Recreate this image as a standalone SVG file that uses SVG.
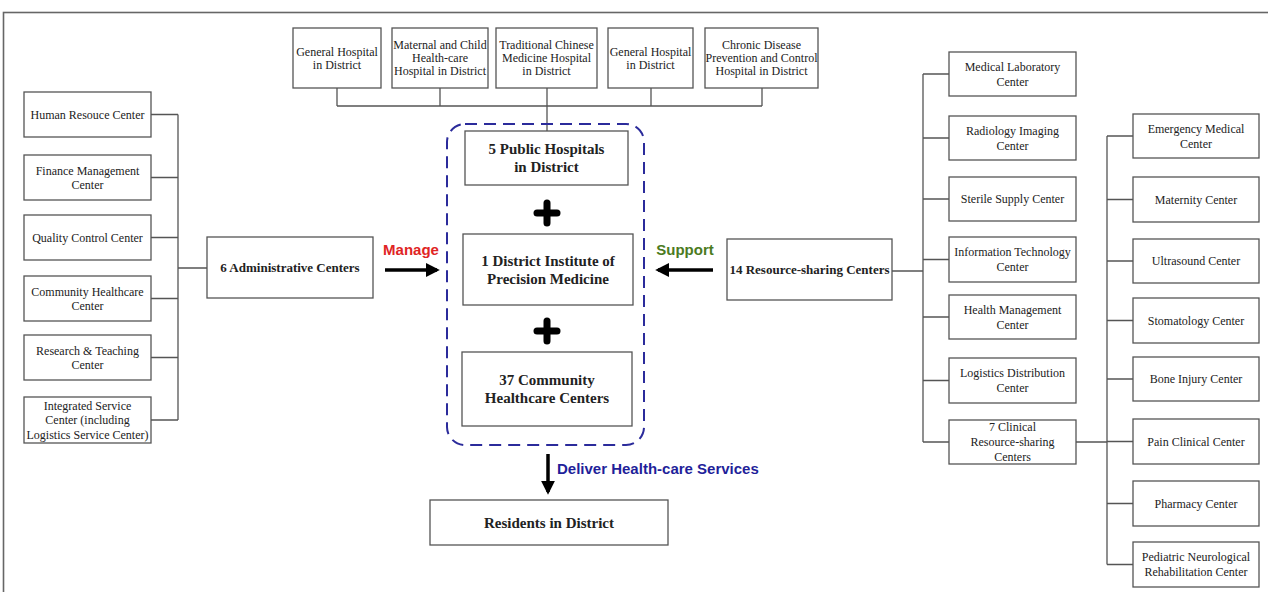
<svg xmlns="http://www.w3.org/2000/svg" width="1268" height="592" viewBox="0 0 1268 592">
<style>
.box{fill:#fff;stroke:#555;stroke-width:1.3}
.ln{fill:none;stroke:#555;stroke-width:1.3}
.t{font-family:"Liberation Serif","Times New Roman",serif;font-size:12px;fill:#222;text-anchor:middle}
.b{font-family:"Liberation Serif","Times New Roman",serif;font-weight:bold;fill:#222;text-anchor:middle}
.b13{font-size:13px}
.b15{font-size:15px}
.lab{font-family:"Liberation Sans",Arial,sans-serif;font-weight:bold;font-size:15px}
.arr{stroke:#000;stroke-width:3.5;fill:none}
.plus{stroke:#000;stroke-width:7;stroke-linecap:round}
</style>
<defs>
<marker id="ah" viewBox="0 0 10 10" refX="8" refY="5" markerWidth="4" markerHeight="4" orient="auto" markerUnits="strokeWidth">
<path d="M0,0 L10,5 L0,10 z" fill="#000"/>
</marker>
</defs>
<rect x="0" y="0" width="1268" height="592" fill="#fff"/>
<rect x="3.5" y="12.5" width="1300" height="620" fill="none" stroke="#666" stroke-width="1.6"/>

<g id="connectors">
<path class="ln" d="M337,88 V106 M440,88 V106 M547,88 V131 M651,88 V106 M762,88 V106 M337,106 H762"/>
<path class="ln" d="M151,114.5 H178 M151,177.5 H178 M151,237.5 H178 M151,298.5 H178 M151,357.5 H178 M151,420 H178 M178,114.5 V420 M178,268 H207"/>
<path class="ln" d="M892,271 H923 M923,74 V442 M923,74 H949 M923,138 H949 M923,199 H949 M923,259.5 H949 M923,317 H949 M923,380.5 H949 M923,442 H949"/>
<path class="ln" d="M1076,442 H1107 M1107,136 V564.5 M1107,136 H1133 M1107,199.5 H1133 M1107,261 H1133 M1107,320.5 H1133 M1107,379 H1133 M1107,441.5 H1133 M1107,503.5 H1133 M1107,564.5 H1133"/>
<line class="arr" x1="385" y1="270" x2="437" y2="270" marker-end="url(#ah)"/>
<line class="arr" x1="713" y1="270" x2="658" y2="270" marker-end="url(#ah)"/>
<line class="arr" x1="548" y1="454" x2="548" y2="492" marker-end="url(#ah)"/>
<text class="lab" x="411" y="255" text-anchor="middle" fill="#e02424">Manage</text>
<text class="lab" x="685" y="255" text-anchor="middle" fill="#4b7b1e">Support</text>
<text class="lab" x="557" y="474" fill="#1f1f9a">Deliver Health-care Services</text>
</g>

<g id="top-hospitals">
<g id="h1"><rect class="box" x="293" y="28" width="88" height="60"/><text class="t" x="337" y="55.7">General Hospital<tspan x="337" dy="13">in District</tspan></text></g>
<g id="h2"><rect class="box" x="392" y="28" width="96" height="60"/><text class="t" x="440" y="49.2">Maternal and Child<tspan x="440" dy="13">Health-care</tspan><tspan x="440" dy="13">Hospital in District</tspan></text></g>
<g id="h3"><rect class="box" x="496" y="28" width="101" height="60"/><text class="t" x="546.5" y="49.2">Traditional Chinese<tspan x="546.5" dy="13">Medicine Hospital</tspan><tspan x="546.5" dy="13">in District</tspan></text></g>
<g id="h4"><rect class="box" x="608" y="28" width="85" height="60"/><text class="t" x="650.5" y="55.7">General Hospital<tspan x="650.5" dy="13">in District</tspan></text></g>
<g id="h5"><rect class="box" x="705" y="28" width="113" height="60"/><text class="t" x="761.5" y="49.2">Chronic Disease<tspan x="761.5" dy="13">Prevention and Control</tspan><tspan x="761.5" dy="13">Hospital in District</tspan></text></g>
</g>

<g id="core">
<rect x="447" y="124" width="197" height="321" rx="18" fill="none" stroke="#2b2b9b" stroke-width="2" stroke-dasharray="12 7"/>
<g id="public"><rect class="box" x="465" y="131" width="163" height="54"/><text class="b b15" x="546.5" y="154.3">5 Public Hospitals<tspan x="546.5" dy="18">in District</tspan></text></g>
<g id="plus1"><line class="plus" x1="537" y1="213" x2="557" y2="213"/><line class="plus" x1="547" y1="203" x2="547" y2="223"/></g>
<g id="institute"><rect class="box" x="463" y="234" width="170" height="71"/><text class="b b15" x="548" y="266">1 District Institute of<tspan x="548" dy="18">Precision Medicine</tspan></text></g>
<g id="plus2"><line class="plus" x1="537" y1="331" x2="557" y2="331"/><line class="plus" x1="547" y1="321" x2="547" y2="341"/></g>
<g id="community"><rect class="box" x="462" y="352" width="170" height="74"/><text class="b b15" x="547" y="385.3">37 Community<tspan x="547" dy="18">Healthcare Centers</tspan></text></g>
</g>

<g id="residents"><rect class="box" x="430" y="500" width="238" height="45"/><text class="b b15" x="549" y="527.7">Residents in District</text></g>

<g id="admin"><rect class="box" x="207" y="237" width="166" height="61"/><text class="b b13" x="290" y="272">6 Administrative Centers</text></g>

<g id="left-column">
<g id="l1"><rect class="box" x="24" y="92" width="127" height="45"/><text class="t" x="87.5" y="118.7">Human Resouce Center</text></g>
<g id="l2"><rect class="box" x="24" y="155" width="127" height="45"/><text class="t" x="87.5" y="174.5">Finance Management<tspan x="87.5" dy="14.5">Center</tspan></text></g>
<g id="l3"><rect class="box" x="24" y="215" width="127" height="45"/><text class="t" x="87.5" y="241.7">Quality Control Center</text></g>
<g id="l4"><rect class="box" x="24" y="276" width="127" height="45"/><text class="t" x="87.5" y="295.5">Community Healthcare<tspan x="87.5" dy="14.5">Center</tspan></text></g>
<g id="l5"><rect class="box" x="24" y="335" width="127" height="45"/><text class="t" x="87.5" y="354.5">Research &amp; Teaching<tspan x="87.5" dy="14.5">Center</tspan></text></g>
<g id="l6"><rect class="box" x="24" y="397" width="127" height="46"/><text class="t" x="87.5" y="409.7">Integrated Service<tspan x="87.5" dy="14.5">Center (including</tspan><tspan x="87.5" dy="14.5">Logistics Service Center)</tspan></text></g>
</g>

<g id="resource"><rect class="box" x="727" y="239" width="165" height="61"/><text class="b b13" x="809.5" y="274">14 Resource-sharing Centers</text></g>

<g id="right-column">
<g id="r1"><rect class="box" x="949" y="52" width="127" height="44"/><text class="t" x="1012.5" y="70.7">Medical Laboratory<tspan x="1012.5" dy="15">Center</tspan></text></g>
<g id="r2"><rect class="box" x="949" y="116" width="127" height="44"/><text class="t" x="1012.5" y="134.7">Radiology Imaging<tspan x="1012.5" dy="15">Center</tspan></text></g>
<g id="r3"><rect class="box" x="949" y="177" width="127" height="44"/><text class="t" x="1012.5" y="203.2">Sterile Supply Center</text></g>
<g id="r4"><rect class="box" x="949" y="237" width="127" height="45"/><text class="t" x="1012.5" y="256.2">Information Technology<tspan x="1012.5" dy="15">Center</tspan></text></g>
<g id="r5"><rect class="box" x="949" y="295" width="127" height="44"/><text class="t" x="1012.5" y="313.7">Health Management<tspan x="1012.5" dy="15">Center</tspan></text></g>
<g id="r6"><rect class="box" x="949" y="358" width="127" height="45"/><text class="t" x="1012.5" y="377.2">Logistics Distribution<tspan x="1012.5" dy="15">Center</tspan></text></g>
<g id="r7"><rect class="box" x="949" y="420" width="127" height="44"/><text class="t" x="1012.5" y="431.2">7 Clinical<tspan x="1012.5" dy="15">Resource-sharing</tspan><tspan x="1012.5" dy="15">Centers</tspan></text></g>
</g>

<g id="clinical-column">
<g id="c1"><rect class="box" x="1133" y="114" width="126" height="44"/><text class="t" x="1196" y="132.7">Emergency Medical<tspan x="1196" dy="15">Center</tspan></text></g>
<g id="c2"><rect class="box" x="1133" y="177" width="126" height="45"/><text class="t" x="1196" y="203.7">Maternity Center</text></g>
<g id="c3"><rect class="box" x="1133" y="239" width="126" height="44"/><text class="t" x="1196" y="265.2">Ultrasound Center</text></g>
<g id="c4"><rect class="box" x="1133" y="298" width="126" height="45"/><text class="t" x="1196" y="324.7">Stomatology Center</text></g>
<g id="c5"><rect class="box" x="1133" y="357" width="126" height="44"/><text class="t" x="1196" y="383.2">Bone Injury Center</text></g>
<g id="c6"><rect class="box" x="1133" y="419" width="126" height="45"/><text class="t" x="1196" y="445.7">Pain Clinical Center</text></g>
<g id="c7"><rect class="box" x="1133" y="481" width="126" height="45"/><text class="t" x="1196" y="507.7">Pharmacy Center</text></g>
<g id="c8"><rect class="box" x="1133" y="542" width="126" height="45"/><text class="t" x="1196" y="561.2">Pediatric Neurological<tspan x="1196" dy="15">Rehabilitation Center</tspan></text></g>
</g>
</svg>
